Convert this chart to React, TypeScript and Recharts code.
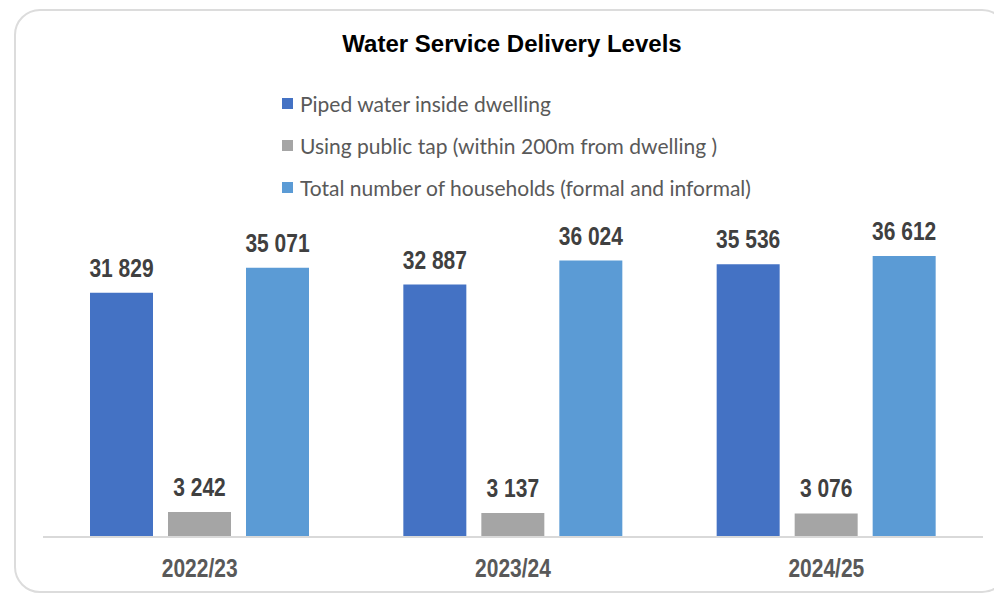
import React from 'react'
import { BarChart, Bar, XAxis, YAxis, LabelList } from 'recharts'

const years = ['2022/23', '2023/24', '2024/25']
const piped = [31829, 32887, 35536]
const publicTap = [3242, 3137, 3076]
const totalHouseholds = [35071, 36024, 36612]

const seriesNames = [
  'Piped water inside dwelling',
  'Using public tap (within 200m from dwelling )',
  'Total number of households (formal and informal)',
]
const seriesColors = ['#4472C4', '#A5A5A5', '#5B9BD5']

const data = years.map((year, i) => ({
  year,
  piped: piped[i],
  tap: publicTap[i],
  total: totalHouseholds[i],
}))

const font = '"Liberation Sans", Arial, sans-serif'

const fmt = (v: any) => String(v).replace(/\B(?=(\d{3})+(?!\d))/g, ' ')

// Excel uses Arial Narrow here; squeeze the regular face horizontally
function ValueLabel(props: any) {
  const { x, y, width, value } = props
  const cx = x + width / 2
  return (
    <text
      transform={`translate(${cx},${y - 16}) scale(0.84,1)`}
      textAnchor="middle"
      fontFamily={font}
      fontSize={25}
      fontWeight={700}
      fill="#404040"
    >
      {fmt(value)}
    </text>
  )
}

function YearTick(props: any) {
  const { x, y, payload } = props
  return (
    <text
      transform={`translate(${x},${y + 32}) scale(0.84,1)`}
      textAnchor="middle"
      fontFamily={font}
      fontSize={25}
      fontWeight={700}
      fill="#595959"
    >
      {payload.value}
    </text>
  )
}

export default function App() {
  return (
    <div style={{ position: 'absolute', left: 0, top: 0, width: 994, height: 594, overflow: 'hidden', background: '#fff' }}>
      <div
        style={{
          position: 'absolute',
          left: 14,
          top: 9,
          width: 990,
          height: 580,
          border: '2px solid #dcdcdc',
          borderRadius: 26,
        }}
      />
      <div
        style={{
          position: 'absolute',
          left: 0,
          width: 994,
          top: 30,
          textAlign: 'center',
          fontFamily: font,
          fontWeight: 700,
          fontSize: 24,
          color: '#000',
          paddingLeft: 30,
          boxSizing: 'border-box',
        }}
      >
        Water Service Delivery Levels
      </div>
      <div
        style={{
          position: 'absolute',
          left: 282,
          top: 82,
          fontFamily: 'Lato, "Noto Sans", sans-serif',
          fontSize: 21,
          color: '#595959',
        }}
      >
        {seriesNames.map((name, i) => (
          <div key={name} style={{ display: 'flex', alignItems: 'center', height: 42 }}>
            <span style={{ width: 11, height: 11, background: seriesColors[i], marginRight: 7, display: 'inline-block' }} />
            <span>{name}</span>
          </div>
        ))}
      </div>
      <div style={{ position: 'absolute', left: 0, top: 0 }}>
        <BarChart
          width={994}
          height={594}
          data={data}
          margin={{ top: 230, right: 11, bottom: 17, left: 43 }}
          barGap={15}
          barCategoryGap={47}
        >
          <XAxis
            dataKey="year"
            height={40}
            axisLine={{ stroke: '#d9d9d9', strokeWidth: 2 }}
            tickLine={false}
            tick={<YearTick />}
          />
          <YAxis hide domain={[0, 40000]} />
          <Bar dataKey="piped" name={seriesNames[0]} fill={seriesColors[0]} isAnimationActive={false}>
            <LabelList dataKey="piped" content={<ValueLabel />} />
          </Bar>
          <Bar dataKey="tap" name={seriesNames[1]} fill={seriesColors[1]} isAnimationActive={false}>
            <LabelList dataKey="tap" content={<ValueLabel />} />
          </Bar>
          <Bar dataKey="total" name={seriesNames[2]} fill={seriesColors[2]} isAnimationActive={false}>
            <LabelList dataKey="total" content={<ValueLabel />} />
          </Bar>
        </BarChart>
      </div>
    </div>
  )
}
